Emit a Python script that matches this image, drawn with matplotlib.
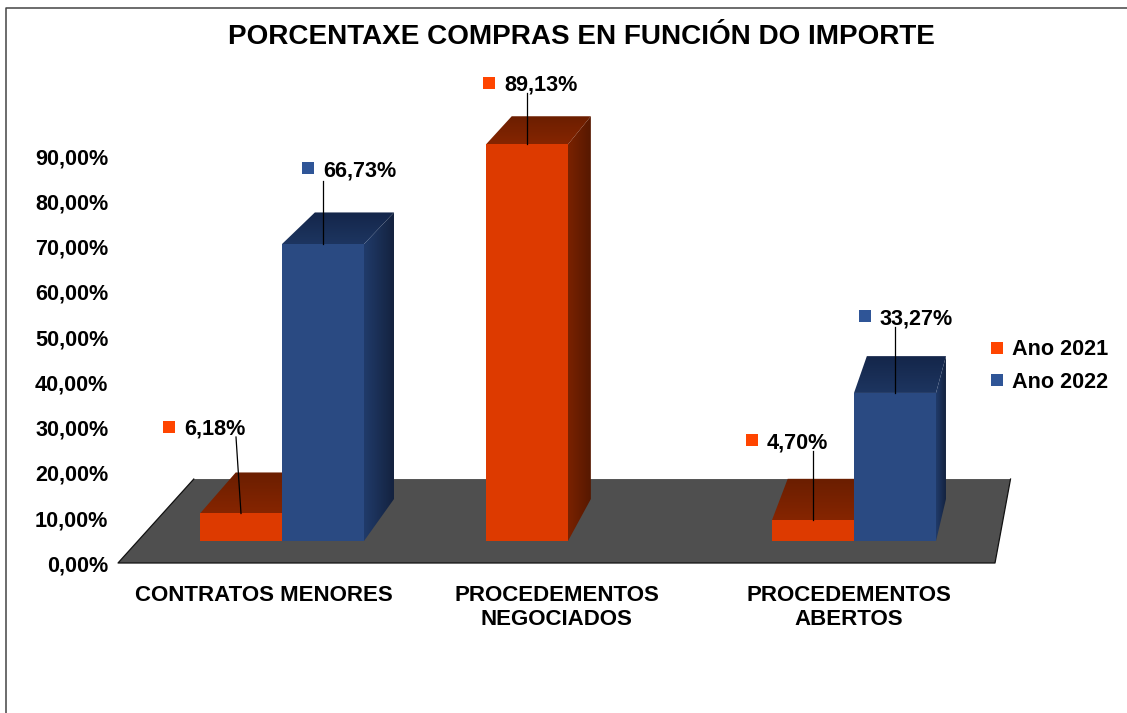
import numpy as np
import matplotlib
matplotlib.use("Agg")
import matplotlib.pyplot as plt
from matplotlib.colors import LinearSegmentedColormap
from matplotlib.lines import Line2D
from matplotlib.patches import Polygon

plt.rcParams['font.family'] = ['Liberation Sans', 'DejaVu Sans']
plt.rcParams['font.weight'] = 'bold'

# ---- data ----
categories = ["CONTRATOS MENORES", "PROCEDEMENTOS\nNEGOCIADOS", "PROCEDEMENTOS\nABERTOS"]
ano_2021 = [6.18, 89.13, 4.70]
ano_2022 = [66.73, np.nan, 33.27]
series_names = ["Ano 2021", "Ano 2022"]
y_ticks = [0, 10, 20, 30, 40, 50, 60, 70, 80, 90]
y_tick_labels = ["0,00%", "10,00%", "20,00%", "30,00%", "40,00%", "50,00%",
                 "60,00%", "70,00%", "80,00%", "90,00%"]
title = "PORCENTAXE COMPRAS EN FUNCIÓN DO IMPORTE"

W, H = 1127, 713
fig = plt.figure(figsize=(W / 100, H / 100), dpi=100, facecolor='white')

# layout of the scene, in pixels
X0, STEP = 282.0, 286.0       # first category centre, category step
Y0, PPU = 541.0, 4.45         # zero line, pixels per percent
VPX, VPY = 1221.0, -659.0     # vanishing point
K_BAR, K_FLOOR = 0.035, 0.0687
BAR_W = 82.0 / STEP

ax = fig.add_axes([0, 0, 1, 1], zorder=1)
ax.set_xlim((0 - X0) / STEP, (W - X0) / STEP)
ax.set_ylim((Y0 - H) / PPU, Y0 / PPU)
ax.axis('off')


def dx(px):
    return (px - X0) / STEP


def dy(py):
    return (Y0 - py) / PPU


def depth(x, y, k):
    """Point pushed back towards the vanishing point (data coords)."""
    vx, vy = dx(VPX), dy(VPY)
    return x + k * (vx - x), y + k * (vy - y)


def gradient_face(pts, c0, c1, horizontal, z):
    pts = np.array(pts)
    cmap = LinearSegmentedColormap.from_list('f', [c0, c1])
    g = np.linspace(0, 1, 64)
    arr = g[None, :] if horizontal else g[:, None]
    ext = (pts[:, 0].min(), pts[:, 0].max(), pts[:, 1].min(), pts[:, 1].max())
    im = ax.imshow(arr, cmap=cmap, extent=ext, origin='lower', aspect='auto',
                   zorder=z, interpolation='bilinear')
    poly = Polygon(pts, closed=True, transform=ax.transData, fc='none', ec='none')
    ax.add_patch(poly)
    im.set_clip_path(poly)


xlim, ylim = ax.get_xlim(), ax.get_ylim()

# floor
FL, FR, FY = dx(118), dx(995), dy(563)
bl = depth(FL, FY, K_FLOOR)
br = depth(FR, FY, K_FLOOR)
ax.add_patch(Polygon([(FL, FY), (FR, FY), br, bl], closed=True, fc='#4f4f4f',
                     ec='none', zorder=1))
ax.plot([bl[0], FL, FR, br[0]], [bl[1], FY, FY, br[1]], color='#111111', lw=0.9, zorder=1.1)

FRONT = {0: '#DD3A00', 1: '#2A4A82'}
TOP = {0: ('#862500', '#6A1E00'), 1: ('#1D3560', '#14264A')}
SIDE = {0: ('#7A2200', '#561800'), 1: ('#203B6A', '#14223F')}

series = [ano_2021, ano_2022]
z = 2.0
for i in range(len(categories)):
    for s, vals in enumerate(series):
        v = vals[i]
        if np.isnan(v):
            continue
        left = i - BAR_W if s == 0 else i
        right = left + BAR_W
        a = depth(left, v, K_BAR)
        b = depth(right, v, K_BAR)
        c = depth(right, 0, K_BAR)
        gradient_face([(left, v), (right, v), b, a], *TOP[s], False, z)
        gradient_face([(right, 0), (right, v), b, c], *SIDE[s], True, z + 0.1)
        ax.bar(left, v, width=BAR_W, align='edge', color=FRONT[s], zorder=z + 0.2)
        z += 1

ax.set_xlim(xlim)
ax.set_ylim(ylim)

# data labels: (label x px, label y px, leader top x px, leader top y px)
label_pos = {
    (0, 0): (184, 427, 236, 437),
    (0, 1): (323, 168, 323, 181),
    (1, 0): (504, 83, 527, 93),
    (2, 0): (767, 440, 813, 451),
    (2, 1): (880, 316, 895, 327),
}
MARK = {0: '#FF4500', 1: '#2F5597'}
LABEL_FS = 15.6
for (i, s), (tx, ty, lx, ly) in label_pos.items():
    v = series[s][i]
    cx = i - BAR_W / 2 if s == 0 else i + BAR_W / 2
    ax.plot([dx(lx), cx], [dy(ly), v], color='black', lw=0.9, zorder=20)
    ax.plot([dx(tx - 15)], [dy(ty)], marker='s', ms=8.6, color=MARK[s], mew=0, ls='none', zorder=20)
    ax.text(dx(tx), dy(ty), f"{v:.2f}%".replace('.', ','), fontsize=LABEL_FS, fontweight='bold',
            ha='left', va='center_baseline', zorder=20)

# axis labels
ax2 = fig.add_axes([118 / W, 1 - 563.5 / H, (995 - 118) / W, (563.5 - 156) / H], zorder=2)
ax2.patch.set_alpha(0)
ax2.set_xlim(-0.5, 2.5)
ax2.set_ylim(0, 90)
for sp in ax2.spines.values():
    sp.set_visible(False)
ax2.set_yticks(y_ticks, y_tick_labels)
ax2.set_xticks(range(len(categories)), categories, linespacing=1.19)
ax2.tick_params(axis='y', length=0, labelsize=LABEL_FS, pad=7)
ax2.tick_params(axis='x', length=0, labelsize=16.0, pad=15.5)

# legend
handles = [Line2D([], [], marker='s', ms=8.6, mew=0, ls='none', color=MARK[k]) for k in (0, 1)]
ax2.legend(handles, series_names, loc='center left',
           bbox_to_anchor=(988 / W, 1 - 366 / H), bbox_transform=fig.transFigure,
           frameon=False, fontsize=LABEL_FS, handlelength=0.8, handletextpad=0.31,
           labelspacing=0.53, borderpad=0, borderaxespad=0, numpoints=1)

# title
fig.text(581 / W, 1 - 37.5 / H, title, fontsize=20.07, fontweight='bold', ha='center', va='center')

# outer frame: left and top only
fig.add_artist(Line2D([6 / W, 6 / W, 1], [0, 1 - 8 / H, 1 - 8 / H],
                      color='#444444', lw=1.1))

fig.savefig('out.png', dpi=100, facecolor='white')
